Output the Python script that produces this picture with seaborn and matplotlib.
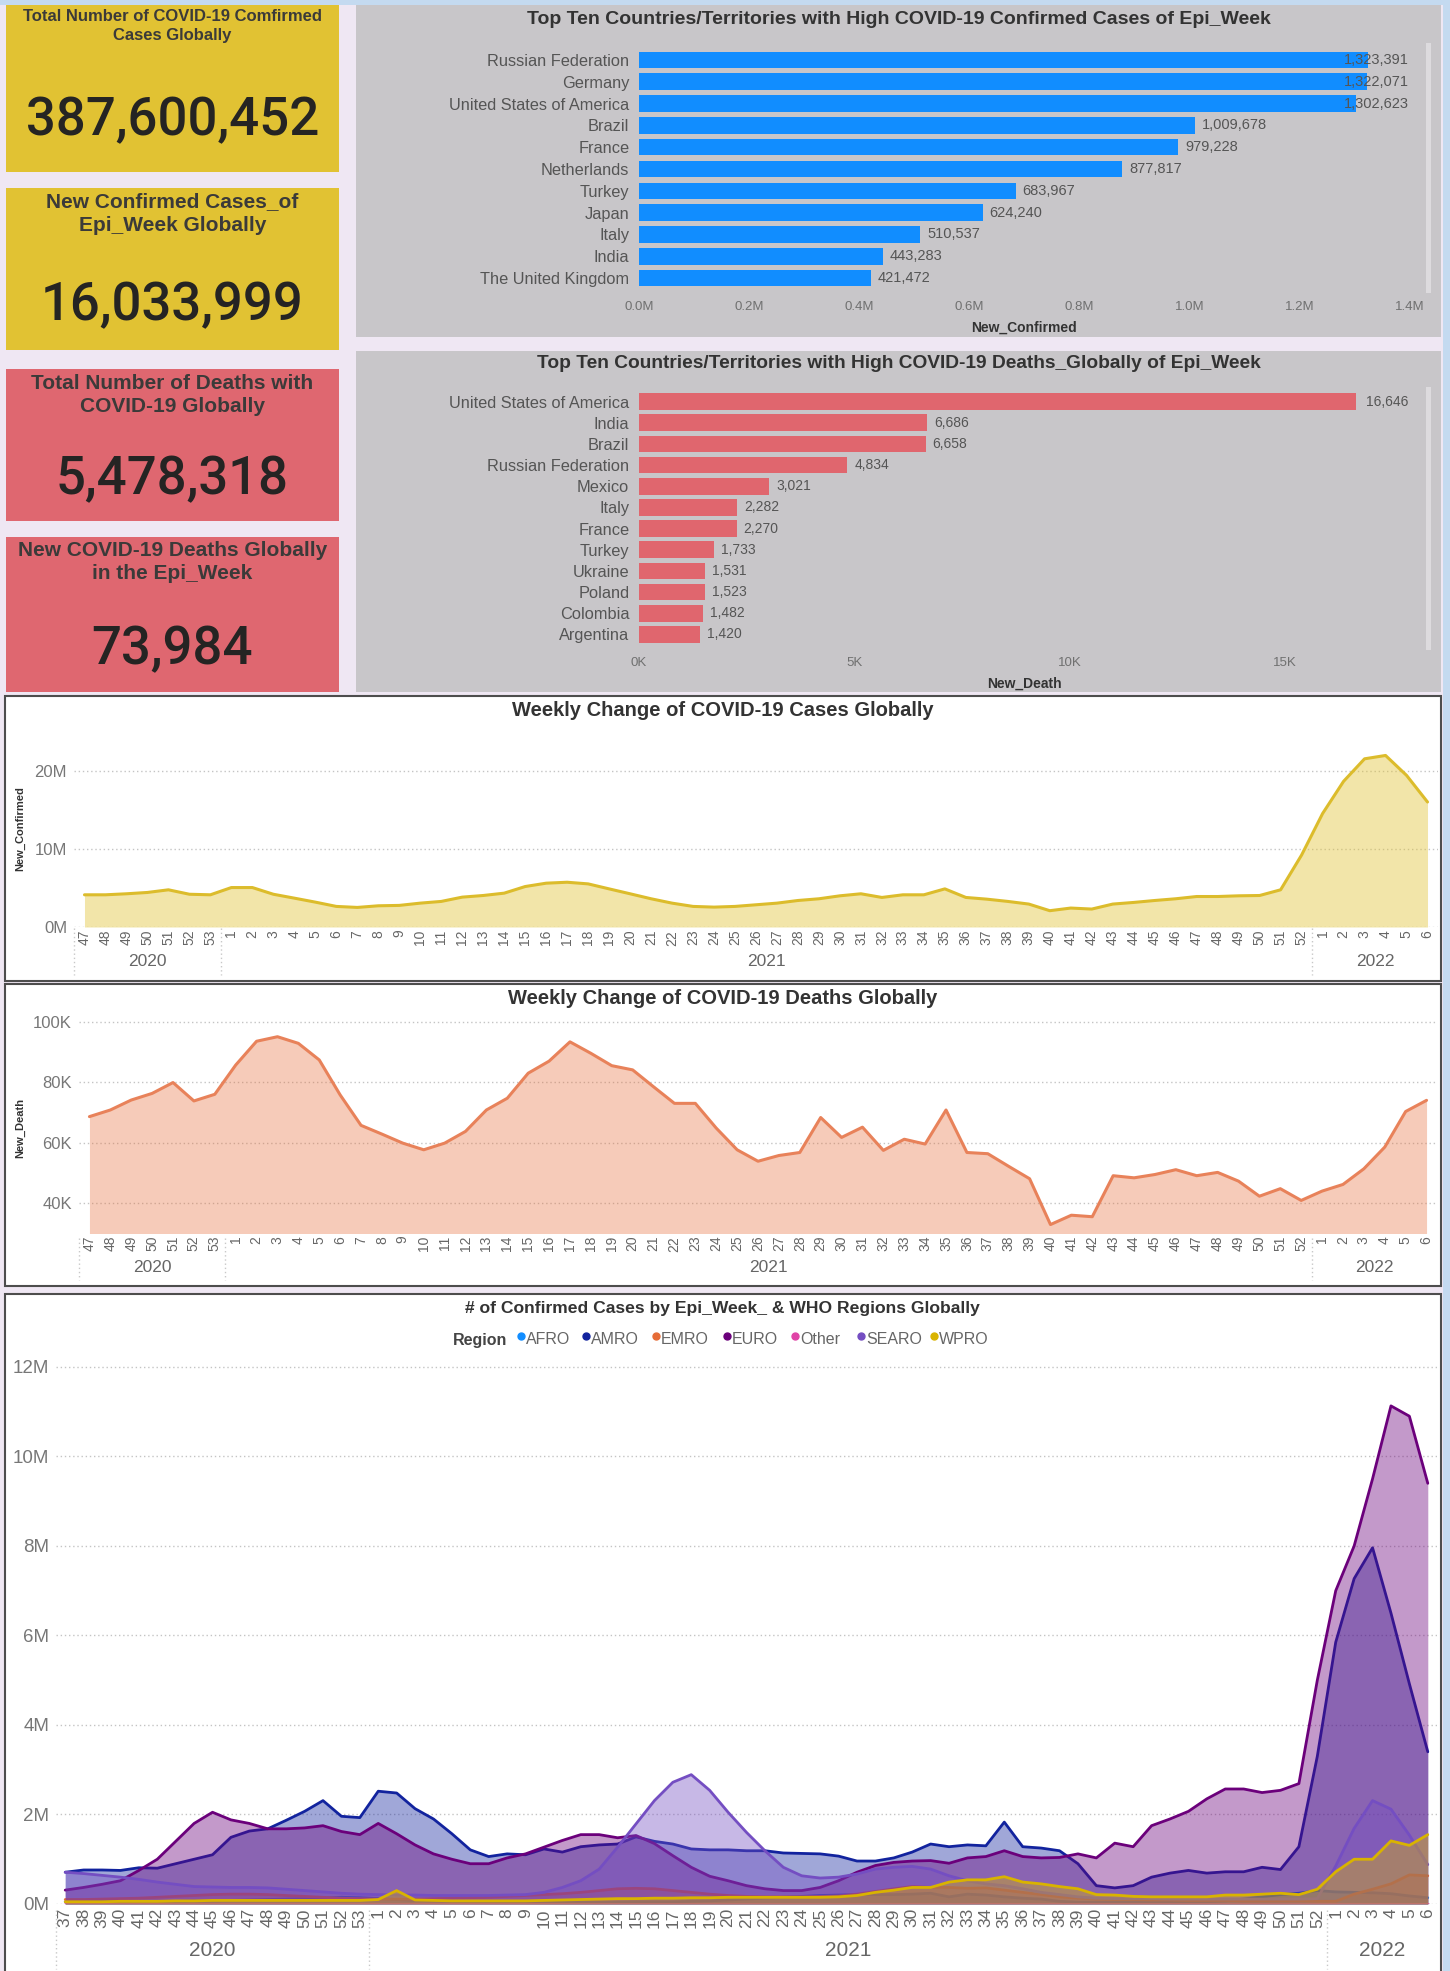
import numpy as np
import pandas as pd
import matplotlib
matplotlib.use("Agg")
import matplotlib.pyplot as plt
from matplotlib.patches import Rectangle
from matplotlib.lines import Line2D
from matplotlib.ticker import FuncFormatter
from matplotlib.transforms import blended_transform_factory
import seaborn as sns

# card totals
total_confirmed = 387600452
new_confirmed_week = 16033999
total_deaths = 5478318
new_deaths_week = 73984

# top ten countries of the epi week
confirmed_countries = ["Russian Federation", "Germany", "United States of America", "Brazil", "France",
                       "Netherlands", "Turkey", "Japan", "Italy", "India", "The United Kingdom"]
confirmed_values = [1323391, 1322071, 1302623, 1009678, 979228, 877817, 683967, 624240, 510537, 443283, 421472]
death_countries = ["United States of America", "India", "Brazil", "Russian Federation", "Mexico", "Italy",
                   "France", "Turkey", "Ukraine", "Poland", "Colombia", "Argentina"]
death_values = [16646, 6686, 6658, 4834, 3021, 2282, 2270, 1733, 1531, 1523, 1482, 1420]

# weekly global series, 2020 wk47 .. 2022 wk6
weeks_2020 = list(range(47, 54))
weeks_2021 = list(range(1, 53))
weeks_2022 = list(range(1, 7))
weekly_cases_m = [4.13, 4.13, 4.26, 4.43, 4.77, 4.2, 4.13, 5.06, 5.06, 4.2,
                  3.7, 3.19, 2.64, 2.51, 2.72, 2.77, 3.06, 3.28, 3.83, 4.04,
                  4.34, 5.19, 5.62, 5.74, 5.53, 4.89, 4.26, 3.62, 3.06, 2.64,
                  2.55, 2.64, 2.85, 3.06, 3.4, 3.62, 4.0, 4.26, 3.79, 4.13,
                  4.13, 4.89, 3.79, 3.57, 3.28, 2.94, 2.09, 2.43, 2.3, 2.94,
                  3.15, 3.4, 3.62, 3.91, 3.91, 4.0, 4.04, 4.77, 9.23, 14.55,
                  18.68, 21.57, 22.0, 19.45, 16.03]
weekly_deaths_k = [68.6, 70.8, 74.1, 76.3, 79.9, 73.8, 76.0, 85.7, 93.6, 95.1,
                   92.9, 87.4, 75.8, 65.7, 62.8, 59.8, 57.6, 59.8, 63.7, 70.8,
                   74.7, 83.0, 87.0, 93.4, 89.6, 85.5, 84.1, 78.5, 73.0, 73.0,
                   64.8, 57.6, 53.8, 55.7, 56.7, 68.3, 61.7, 65.1, 57.4, 61.1,
                   59.5, 70.8, 56.7, 56.3, 52.1, 48.0, 32.8, 35.9, 35.4, 49.0,
                   48.3, 49.4, 51.0, 49.0, 50.1, 47.2, 42.2, 44.7, 40.8, 43.9,
                   46.1, 51.3, 58.5, 70.3, 74.0]

# weekly confirmed by WHO region, 2020 wk37 .. 2022 wk6 (millions)
region_weeks_2020 = list(range(37, 54))
regions = ["AFRO", "AMRO", "EMRO", "EURO", "Other", "SEARO", "WPRO"]
region_colors = ["#118DFF", "#12239E", "#E66C37", "#6B007B", "#E044A7", "#744EC2", "#D9B300"]
afro = [0.05, 0.05, 0.05, 0.05, 0.06, 0.06, 0.06, 0.07, 0.07, 0.08,
        0.09, 0.10, 0.11, 0.12, 0.13, 0.15, 0.14, 0.12, 0.10, 0.08,
        0.07, 0.06, 0.05, 0.05, 0.04, 0.04, 0.04, 0.04, 0.04, 0.04,
        0.04, 0.05, 0.05, 0.05, 0.06, 0.07, 0.09, 0.11, 0.13, 0.15,
        0.17, 0.19, 0.20, 0.21, 0.21, 0.21, 0.22, 0.24, 0.16, 0.22,
        0.20, 0.16, 0.13, 0.11, 0.06, 0.04, 0.04, 0.04, 0.04, 0.04,
        0.04, 0.04, 0.05, 0.07, 0.11, 0.16, 0.21, 0.24, 0.30, 0.27,
        0.26, 0.25, 0.23, 0.18, 0.14]
amro = [0.71, 0.76, 0.76, 0.75, 0.81, 0.80, 0.90, 1.00, 1.10, 1.49,
        1.63, 1.68, 1.87, 2.07, 2.31, 1.96, 1.93, 2.52, 2.48, 2.13,
        1.90, 1.57, 1.21, 1.06, 1.12, 1.10, 1.23, 1.16, 1.28, 1.32,
        1.34, 1.50, 1.40, 1.34, 1.23, 1.21, 1.21, 1.19, 1.19, 1.14,
        1.13, 1.12, 1.07, 0.96, 0.96, 1.03, 1.16, 1.34, 1.28, 1.32,
        1.30, 1.83, 1.28, 1.25, 1.19, 0.90, 0.41, 0.36, 0.41, 0.60,
        0.69, 0.75, 0.69, 0.72, 0.72, 0.82, 0.77, 1.28, 3.30, 5.85,
        7.27, 7.96, 6.50, 4.92, 3.40]
emro = [0.10, 0.10, 0.11, 0.12, 0.13, 0.15, 0.17, 0.19, 0.21, 0.22,
        0.22, 0.21, 0.19, 0.17, 0.15, 0.13, 0.12, 0.11, 0.11, 0.11,
        0.12, 0.13, 0.14, 0.15, 0.17, 0.19, 0.21, 0.23, 0.26, 0.30,
        0.34, 0.35, 0.34, 0.30, 0.26, 0.22, 0.19, 0.17, 0.16, 0.16,
        0.16, 0.17, 0.18, 0.22, 0.28, 0.34, 0.39, 0.37, 0.37, 0.35,
        0.36, 0.31, 0.26, 0.21, 0.16, 0.13, 0.11, 0.10, 0.10, 0.09,
        0.09, 0.08, 0.08, 0.08, 0.07, 0.07, 0.07, 0.07, 0.06, 0.06,
        0.22, 0.33, 0.45, 0.65, 0.63]
euro = [0.31, 0.37, 0.44, 0.52, 0.75, 1.00, 1.40, 1.80, 2.05, 1.88,
        1.80, 1.68, 1.68, 1.70, 1.75, 1.62, 1.55, 1.80, 1.57, 1.32,
        1.12, 1.00, 0.90, 0.90, 1.03, 1.12, 1.27, 1.42, 1.55, 1.55,
        1.48, 1.53, 1.35, 1.08, 0.82, 0.62, 0.52, 0.41, 0.34, 0.30,
        0.30, 0.37, 0.52, 0.71, 0.86, 0.93, 0.96, 0.97, 0.91, 1.03,
        1.06, 1.19, 1.06, 1.03, 1.04, 1.12, 1.03, 1.36, 1.28, 1.75,
        1.90, 2.07, 2.35, 2.57, 2.57, 2.49, 2.54, 2.69, 5.00, 7.00,
        8.00, 9.50, 11.13, 10.90, 9.40]
other = [0.01, 0.01, 0.01, 0.01, 0.01, 0.01, 0.01, 0.01, 0.01, 0.01,
         0.01, 0.01, 0.01, 0.01, 0.01, 0.01, 0.01, 0.01, 0.01, 0.01,
         0.01, 0.01, 0.01, 0.01, 0.01, 0.01, 0.01, 0.01, 0.01, 0.01,
         0.01, 0.01, 0.01, 0.01, 0.01, 0.01, 0.01, 0.01, 0.01, 0.01,
         0.01, 0.01, 0.01, 0.01, 0.01, 0.01, 0.01, 0.01, 0.01, 0.01,
         0.01, 0.01, 0.01, 0.01, 0.01, 0.01, 0.01, 0.01, 0.01, 0.01,
         0.01, 0.01, 0.01, 0.01, 0.01, 0.01, 0.01, 0.01, 0.01, 0.01,
         0.01, 0.01, 0.01, 0.01, 0.01]
searo = [0.71, 0.68, 0.64, 0.60, 0.55, 0.49, 0.44, 0.39, 0.38, 0.37,
         0.37, 0.36, 0.33, 0.30, 0.27, 0.24, 0.22, 0.21, 0.20, 0.20,
         0.19, 0.19, 0.19, 0.19, 0.20, 0.21, 0.26, 0.37, 0.52, 0.78,
         1.27, 1.79, 2.31, 2.72, 2.89, 2.54, 2.05, 1.60, 1.19, 0.82,
         0.63, 0.58, 0.60, 0.67, 0.78, 0.82, 0.84, 0.78, 0.63, 0.52,
         0.45, 0.41, 0.34, 0.26, 0.21, 0.16, 0.13, 0.12, 0.12, 0.12,
         0.11, 0.11, 0.11, 0.11, 0.11, 0.11, 0.11, 0.11, 0.12, 0.85,
         1.69, 2.31, 2.12, 1.54, 0.88]
wpro = [0.05, 0.05, 0.05, 0.06, 0.06, 0.06, 0.07, 0.07, 0.08, 0.08,
        0.08, 0.08, 0.08, 0.08, 0.08, 0.08, 0.08, 0.10, 0.30, 0.09,
        0.08, 0.07, 0.07, 0.07, 0.07, 0.07, 0.08, 0.09, 0.10, 0.11,
        0.12, 0.12, 0.13, 0.13, 0.14, 0.14, 0.15, 0.15, 0.15, 0.15,
        0.15, 0.15, 0.16, 0.19, 0.26, 0.31, 0.37, 0.37, 0.49, 0.54,
        0.54, 0.61, 0.49, 0.45, 0.39, 0.34, 0.21, 0.20, 0.17, 0.16,
        0.16, 0.16, 0.16, 0.20, 0.20, 0.22, 0.24, 0.21, 0.33, 0.72,
        1.00, 1.00, 1.41, 1.31, 1.55]

sns.set_theme(style="white")
plt.rcParams["font.family"] = ["Liberation Sans", "DejaVu Sans"]

W, H = 1450, 1971
fig = plt.figure(figsize=(W / 100, H / 100), dpi=100)
fig.patch.set_facecolor("#efe7f3")


def box(x0, y0, x1, y1):
    return [x0 / W, 1 - y1 / H, (x1 - x0) / W, (y1 - y0) / H]


def ftext(x, y, s, **kw):
    return fig.text(x / W, 1 - y / H, s, **kw)


def panel(x0, y0, x1, y1, face, edge=None, lw=0):
    fig.add_artist(Rectangle((x0 / W, 1 - y1 / H), (x1 - x0) / W, (y1 - y0) / H,
                             transform=fig.transFigure, facecolor=face,
                             edgecolor=edge if edge else "none", linewidth=lw, zorder=-5))


# page strips
panel(0, 0, W, 5, "#c4daf0")
panel(1443, 0, W, H, "#c4daf0")

# ---- KPI cards
gold, rose = "#e1c233", "#df6770"
cards = [((6, 5, 339, 172), gold, "Total Number of COVID-19 Comfirmed\nCases Globally", 26, 12, total_confirmed, 117),
         ((6, 188, 339, 350), gold, "New Confirmed Cases_of\nEpi_Week Globally", 214, 15, new_confirmed_week, 302),
         ((6, 369, 339, 521), rose, "Total Number of Deaths with\nCOVID-19 Globally", 395, 15, total_deaths, 476),
         ((6, 537, 339, 692), rose, "New COVID-19 Deaths Globally\nin the Epi_Week", 562, 15, new_deaths_week, 646)]
for (x0, y0, x1, y1), col, title, ty, tsize, val, vy in cards:
    panel(x0, y0, x1, y1, col)
    cx = (x0 + x1) / 2
    ftext(cx, ty, title, ha="center", va="center", fontsize=tsize, fontweight="bold",
          color="#3b3a39", linespacing=1.33)
    ftext(cx, vy + 18, f"{val:,}", ha="center", va="baseline", fontsize=38,
          family=["Roboto", "DejaVu Sans"], fontweight="medium", color="#252423")


# ---- horizontal bar charts
def bar_chart(pbox, abox, countries, values, color, xmax, ticks, tick_labels, xlabel, title, title_y,
              title_size, scroll, width, vsize, csize, tsize):
    panel(*pbox, "#c8c6c9")
    panel(scroll[0], scroll[1], scroll[0] + 5, scroll[2], "#dddbde")
    ax = fig.add_axes(box(*abox))
    ax.set_facecolor("none")
    sns.barplot(x=values, y=countries, orient="h", color=color, saturation=1, width=width,
                linewidth=0, edgecolor="none", ax=ax)
    ax.set_xlim(0, xmax)
    ax.set_xticks(ticks)
    ax.set_xticklabels(tick_labels)
    sns.despine(ax=ax, left=True, bottom=True)
    ax.tick_params(axis="y", length=0, pad=7, labelsize=csize, labelcolor="#555555")
    ax.tick_params(axis="x", length=0, pad=9, labelsize=tsize, labelcolor="#707070")
    ax.set_xlabel(xlabel, fontsize=10, fontweight="bold", color="#333333", labelpad=5)
    ax.set_ylabel("")
    for i, v in enumerate(values):
        if v > xmax * 0.9:
            ax.text(xmax * 0.998, i, f"{v:,}", ha="right", va="center", fontsize=vsize, color="#555555")
        else:
            ax.text(v + xmax * 0.009, i, f"{v:,}", ha="left", va="center", fontsize=vsize, color="#555555")
    ftext((pbox[0] + pbox[2]) / 2, title_y, title, ha="center", va="center", fontsize=title_size,
          fontweight="bold", color="#333333")
    return ax


bar_chart((356, 5, 1441, 337), (639, 49, 1410, 289), confirmed_countries, confirmed_values, "#118DFF",
          1.4e6, np.arange(0, 1.41e6, 2e5), [f"{t / 1e6:.1f}M" for t in np.arange(0, 1.41e6, 2e5)],
          "New_Confirmed", "Top Ten Countries/Territories with High COVID-19 Confirmed Cases of Epi_Week",
          19, 14, (1426, 43, 293), 0.76, 10.5, 11.8, 9.5)
bar_chart((356, 351, 1441, 692), (639, 391, 1410, 645), death_countries, death_values, "#E0666E",
          17900, [0, 5000, 10000, 15000], ["0K", "5K", "10K", "15K"],
          "New_Death", "Top Ten Countries/Territories with High COVID-19 Deaths_Globally of Epi_Week",
          363, 13.8, (1426, 387, 650), 0.78, 10, 11.8, 9.5)


# ---- weekly area charts
def week_axis(ax, abox, labels, groups, lsize, year_y, year_size, sep_y0, sep_y1, pad):
    x0, y0, x1, y1 = abox
    frac = lambda y: (y1 - y) / (y1 - y0)
    ax.set_xticks(range(len(labels)))
    ax.set_xticklabels(labels, rotation=90, fontsize=lsize, color="#666666")
    ax.tick_params(axis="x", length=0, pad=pad)
    tr = blended_transform_factory(ax.transData, ax.transAxes)
    start = 0
    for year, count in groups:
        ax.text(start + (count - 1) / 2, frac(year_y), year, transform=tr, ha="center", va="center",
                fontsize=year_size, color="#666666")
        ax.plot([start - 0.5, start - 0.5], [frac(sep_y0), frac(sep_y1)], transform=tr,
                ls=(0, (1, 2)), color="#c8c8c8", lw=1, clip_on=False)
        start += count
    ax.set_xlim(-0.5, len(labels) - 0.5)


def style_y(ax, ysize, pad):
    ax.yaxis.grid(True, linestyle=(0, (1, 2)), color="#c4c4c4", lw=1)
    ax.xaxis.grid(False)
    ax.set_axisbelow(True)
    sns.despine(ax=ax, left=True, bottom=True)
    ax.tick_params(axis="y", length=0, pad=pad, labelsize=ysize, labelcolor="#777777")


short_labels = [str(w) for w in weeks_2020 + weeks_2021 + weeks_2022]
short_groups = [("2020", len(weeks_2020)), ("2021", len(weeks_2021)), ("2022", len(weeks_2022))]
short_idx = np.arange(len(short_labels))

# cases
panel(5, 696, 1441, 981, "white", "#4d4d4d", 1.5)
cbox = (74, 750, 1438, 927)
ax_c = fig.add_axes(box(*cbox))
ax_c.set_facecolor("none")
cases = np.array(weekly_cases_m) * 1e6
ax_c.fill_between(short_idx, cases, color="#e1c233", alpha=0.42, lw=0)
sns.lineplot(x=short_idx, y=cases, color="#dcbc2c", lw=2.2, ax=ax_c)
ax_c.set_ylim(0, 22.7e6)
ax_c.set_yticks([0, 10e6, 20e6])
ax_c.yaxis.set_major_formatter(FuncFormatter(lambda v, p: f"{v / 1e6:.0f}M"))
style_y(ax_c, 12, 5)
week_axis(ax_c, cbox, short_labels, short_groups, 10, 962, 12.5, 928, 975, 2)
ax_c.set_ylabel("")
ftext(723, 710, "Weekly Change of COVID-19 Cases Globally", ha="center", va="center",
      fontsize=14.5, fontweight="bold", color="#333333")
ftext(20, 829, "New_Confirmed", ha="center", va="center", rotation=90, fontsize=8,
      fontweight="bold", color="#333333")

# deaths
panel(5, 984, 1441, 1286, "white", "#4d4d4d", 1.5)
dbox = (79, 1012, 1437, 1233)
ax_d = fig.add_axes(box(*dbox))
ax_d.set_facecolor("none")
deaths = np.array(weekly_deaths_k) * 1e3
ax_d.fill_between(short_idx, deaths, 0, color="#E66C37", alpha=0.35, lw=0)
sns.lineplot(x=short_idx, y=deaths, color="#e8825a", lw=2.2, ax=ax_d)
ax_d.set_ylim(30000, 103300)
ax_d.set_yticks([40000, 60000, 80000, 100000])
ax_d.yaxis.set_major_formatter(FuncFormatter(lambda v, p: f"{v / 1e3:.0f}K"))
style_y(ax_d, 12, 5)
week_axis(ax_d, dbox, short_labels, short_groups, 10, 1267, 12.5, 1238, 1280, 2)
ax_d.set_ylabel("")
ftext(723, 998, "Weekly Change of COVID-19 Deaths Globally", ha="center", va="center",
      fontsize=14.5, fontweight="bold", color="#333333")
ftext(20, 1128, "New_Death", ha="center", va="center", rotation=90, fontsize=8,
      fontweight="bold", color="#333333")

# ---- regions
panel(5, 1294, 1441, 1985, "white", "#4d4d4d", 1.5)
rbox = (56, 1358, 1437, 1904)
ax_r = fig.add_axes(box(*rbox))
ax_r.set_facecolor("none")
long_labels = [str(w) for w in region_weeks_2020 + weeks_2021 + weeks_2022]
long_groups = [("2020", len(region_weeks_2020)), ("2021", len(weeks_2021)), ("2022", len(weeks_2022))]
series = [afro, amro, emro, euro, other, searo, wpro]
df = pd.DataFrame({
    "idx": np.tile(np.arange(len(long_labels)), len(regions)),
    "Region": np.repeat(regions, len(long_labels)),
    "cases": np.concatenate([np.array(s) * 1e6 for s in series]),
})
for k, (name, col) in enumerate(zip(regions, region_colors)):
    sub = df[df["Region"] == name]
    ax_r.fill_between(sub["idx"], sub["cases"], color=col, alpha=0.4, lw=0, zorder=2 + 2 * k)
    sns.lineplot(data=sub, x="idx", y="cases", color=col, lw=2, ax=ax_r, zorder=3 + 2 * k)
ax_r.set_ylim(0, 12.2e6)
ax_r.set_yticks(np.arange(0, 12.1e6, 2e6))
ax_r.yaxis.set_major_formatter(FuncFormatter(lambda v, p: f"{v / 1e6:.0f}M"))
style_y(ax_r, 13.5, 5)
week_axis(ax_r, rbox, long_labels, long_groups, 12.5, 1951, 15, 1910, 1969, 3)
ax_r.set_ylabel("")
ax_r.set_xlabel("")
ftext(722, 1308, "# of Confirmed Cases by Epi_Week_ & WHO Regions Globally", ha="center", va="center",
      fontsize=12.6, fontweight="bold", color="#333333")

# legend row
ftext(507, 1340, "Region", ha="right", va="center", fontsize=11.5, fontweight="bold", color="#444444")
legend_x = [521, 586, 656, 727, 795, 861, 934]
for name, col, lx in zip(regions, region_colors, legend_x):
    fig.add_artist(Line2D([lx / W], [1 - 1336 / H], marker="o", ms=5, color=col, lw=0,
                          transform=fig.transFigure))
    ftext(lx + 5, 1340, name, ha="left", va="center", fontsize=11.5, color="#666666")

fig.savefig("out.png", dpi=100, facecolor=fig.get_facecolor())
